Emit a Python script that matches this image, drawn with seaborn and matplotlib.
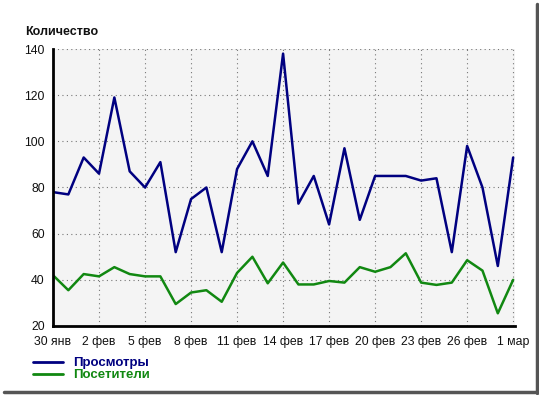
import pandas as pd
import seaborn as sns
import matplotlib.pyplot as plt
from matplotlib.lines import Line2D

# daily values, 30 Jan .. 1 Mar
views = [78, 77, 93, 86, 119, 87, 80, 91, 52, 75, 80, 52, 88, 100, 85, 138,
         73, 85, 64, 97, 66, 85, 85, 85, 83, 84, 52, 98, 80, 46, 93]
visitors = [42, 35.5, 42.5, 41.5, 45.5, 42.5, 41.5, 41.5, 29.5, 34.5, 35.5, 30.5,
            43, 50, 38.5, 47.5, 38, 38, 39.5, 38.8, 45.5, 43.5, 45.5, 51.5,
            38.8, 37.8, 38.8, 48.5, 44, 25.5, 40]
tick_labels = ['30 янв', '2 фев', '5 фев', '8 фев', '11 фев', '14 фев',
               '17 фев', '20 фев', '23 фев', '26 фев', '1 мар']
y_ticks = [20, 40, 60, 80, 100, 120, 140]
series_names = ['Просмотры', 'Посетители']
colors = ['#000080', '#118811']

df = pd.DataFrame({
    'day': list(range(len(views))) * 2,
    'value': views + visitors,
    'series': [series_names[0]] * len(views) + [series_names[1]] * len(visitors),
})

sns.set_style('white')
plt.rcParams['font.family'] = ['Liberation Sans', 'DejaVu Sans']

fig = plt.figure(figsize=(5.39, 3.95), dpi=100)
ax = fig.add_axes([53 / 539, 1 - 326 / 395, 462 / 539, 277 / 395])
ax.set_facecolor('#f4f4f4')

sns.lineplot(data=df, x='day', y='value', hue='series', palette=colors,
             linewidth=1.8, ax=ax, legend=False)

ax.set_xlim(0, 30.12)
ax.set_ylim(20, 140)
ax.set_xticks(range(0, len(views), 3))
ax.set_xticklabels(tick_labels)
ax.set_yticks(y_ticks)
ax.set_xlabel('')
ax.set_ylabel('')

ax.grid(True, linestyle=(0, (1, 3)), color='#777777', linewidth=0.8)
for side in ['top', 'right']:
    ax.spines[side].set_visible(False)
for side in ['left', 'bottom']:
    ax.spines[side].set_color('black')
    ax.spines[side].set_linewidth(2)
ax.tick_params(axis='both', direction='out', length=4, width=1.2, color='black',
               labelsize=8.8, labelcolor='#111111', pad=2)
ax.tick_params(axis='x', pad=3)

fig.text(25 / 539, 1 - 32 / 395, 'Количество', fontsize=9, fontweight='bold',
         ha='left', va='center', color='#111111')

# legend under the axes
handles = [Line2D([0], [0], color=c, linewidth=2) for c in colors]
leg = fig.legend(handles, series_names, loc='upper left',
                 bbox_to_anchor=(33 / 539, 1 - 357 / 395), frameon=False,
                 handlelength=2.3, handletextpad=0.75, labelspacing=0.0,
                 borderpad=0, prop={'weight': 'bold', 'size': 9.5},
                 borderaxespad=0)
for txt, c in zip(leg.get_texts(), colors):
    txt.set_color(c)

# shadow frame on the right and bottom
fig.add_artist(Line2D([537 / 539, 537 / 539], [1 - 393 / 395, 1 - 4 / 395],
                      color='#555555', linewidth=2.5, transform=fig.transFigure))
fig.add_artist(Line2D([4 / 539, 537 / 539], [1 - 392 / 395, 1 - 392 / 395],
                      color='#555555', linewidth=2.5, transform=fig.transFigure))

fig.savefig('out.png', dpi=100)
